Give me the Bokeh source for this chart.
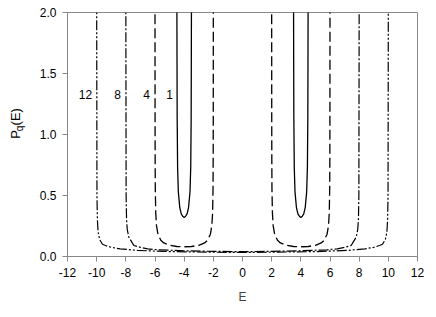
import math
from bokeh.plotting import figure
from bokeh.layouts import row
from bokeh.models import Label, Range1d, FixedTicker
from bokeh.core.properties import value
from bokeh.embed import file_html
from bokeh.resources import INLINE

nan = float("nan")

# distance from band centre -> P value
q1_d = [0.5, 0.49, 0.48, 0.45, 0.40, 0.30, 0.20, 0.10, 0.0]
q1_p = [2.10, 1.60, 1.14, 0.73, 0.53, 0.40, 0.35, 0.33, 0.32]
q1_centres = [-4.0, 4.0]

q4_d = [2.0, 1.995, 1.99, 1.98, 1.95, 1.90, 1.80, 1.60, 1.40, 1.00, 0.50, 0.0]
q4_p = [2.10, 1.13, 0.80, 0.56, 0.36, 0.255, 0.183, 0.133, 0.111, 0.092, 0.082, 0.080]
q4_centres = [-4.0, 4.0]

q8_d = [8.0, 7.98, 7.95, 7.9, 7.8, 7.6, 7.45, 7.0, 6.5, 5.8, 4.0, 2.0, 0.0]
q8_p = [2.10, 0.50, 0.30, 0.22, 0.16, 0.12, 0.09, 0.075, 0.063, 0.055, 0.047, 0.042, 0.040]

q12_d = [10.0, 9.98, 9.95, 9.9, 9.8, 9.6, 9.4, 9.0, 8.4, 7.2, 5.0, 2.0, 0.0]
q12_p = [2.10, 0.50, 0.30, 0.20, 0.14, 0.10, 0.09, 0.075, 0.063, 0.050, 0.040, 0.035, 0.034]

curve_labels = ["12", "8", "4", "1"]
label_E = [-10.77, -8.57, -6.58, -5.0]
label_P = [1.33, 1.33, 1.33, 1.33]

x_ticks = [-12, -10, -8, -6, -4, -2, 0, 2, 4, 6, 8, 10, 12]
y_ticks = [0.0, 0.5, 1.0, 1.5, 2.0]


def band(centre, d, pv):
    xs = [centre - v for v in d] + [centre + v for v in reversed(d[:-1])]
    ys = list(pv) + list(reversed(pv[:-1]))
    return xs, ys


def bands(centres, d, pv):
    xs, ys = [], []
    for i, c in enumerate(centres):
        bx, by = band(c, d, pv)
        if i:
            xs.append(nan); ys.append(nan)
        xs += bx; ys += by
    return xs, ys


FONT = "Liberation Sans"
GRAY = "#888888"
H = 309
LW = 31

p = figure(width=397, height=H, output_backend="svg", toolbar_location=None,
           x_range=Range1d(-12, 12), y_range=Range1d(0, 2),
           min_border_left=36, min_border_right=11, min_border_top=12, min_border_bottom=53)
p.grid.visible = False
p.outline_line_color = GRAY
p.outline_line_width = 1

for ax in (p.xaxis[0], p.yaxis[0]):
    ax.axis_line_color = GRAY
    ax.major_tick_line_color = GRAY
    ax.minor_tick_line_color = None
    ax.major_tick_out = 5
    ax.major_tick_in = 0
    ax.major_label_text_font = FONT
    ax.major_label_text_font_size = "12px"
    ax.major_label_text_color = "black"

p.xaxis.ticker = FixedTicker(ticks=x_ticks)
p.yaxis.ticker = FixedTicker(ticks=y_ticks)
p.xaxis.major_label_overrides = {t: str(t) for t in x_ticks}
p.yaxis.major_label_overrides = {t: f"{t:.1f}" for t in y_ticks}
p.xaxis.major_label_standoff = 6
p.yaxis.major_label_standoff = 6
p.xaxis.axis_label = "E"
p.xaxis.axis_label_text_font = FONT
p.xaxis.axis_label_text_font_size = "12px"
p.xaxis.axis_label_text_font_style = "normal"
p.xaxis.axis_label_standoff = 10

x1, y1 = bands(q1_centres, q1_d, q1_p)
p.line(x1, y1, line_color="black", line_width=1.3)
x4, y4 = bands(q4_centres, q4_d, q4_p)
p.line(x4, y4, line_color="black", line_width=1.3, line_dash="10 4")
x8, y8 = bands([0.0], q8_d, q8_p)
p.line(x8, y8, line_color="black", line_width=1.2, line_dash="10 2 2 2")
x12, y12 = bands([0.0], q12_d, q12_p)
p.line(x12, y12, line_color="black", line_width=1.2, line_dash="10 2 2 2 2 2")

for t, xe, yp in zip(curve_labels, label_E, label_P):
    p.add_layout(Label(x=xe, y=yp, text=t, text_align="center", text_baseline="middle",
                       text_font=FONT, text_font_size="12px", text_color="black"))

# narrow panel holding the rotated y-axis label P_q(E)
lab = figure(width=LW, height=H, output_backend="svg", toolbar_location=None,
             x_range=Range1d(0, LW), y_range=Range1d(0, H),
             min_border_left=0, min_border_right=0, min_border_top=0, min_border_bottom=0)
lab.axis.visible = False
lab.grid.visible = False
lab.outline_line_color = None
lab.text(x=[15], y=[H - 160], text=["P"], angle=math.pi / 2, text_align="left",
         text_baseline="middle", text_font=value(FONT), text_font_size="13px", text_color="black")
lab.text(x=[18.5], y=[H - 150.5], text=["q"], angle=math.pi / 2, text_align="left",
         text_baseline="middle", text_font=value(FONT), text_font_size="10px", text_color="black")
lab.text(x=[15], y=[H - 143], text=["(E)"], angle=math.pi / 2, text_align="left",
         text_baseline="middle", text_font=value(FONT), text_font_size="13px", text_color="black")

layout = row(lab, p)
open("out.html", "w").write(file_html(layout, INLINE))
